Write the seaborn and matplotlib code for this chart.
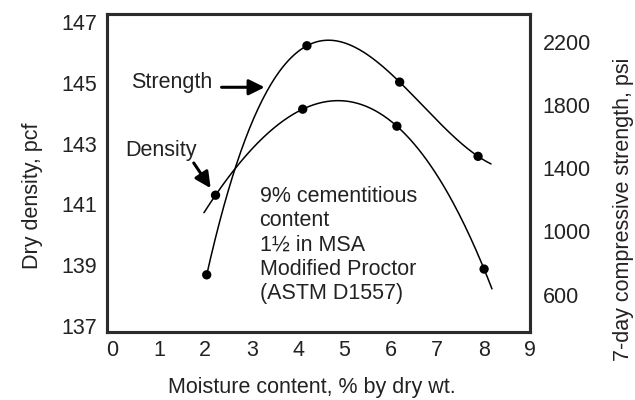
import numpy as np
import matplotlib
matplotlib.use('Agg')
import matplotlib.pyplot as plt
import seaborn as sns

# ---- data ----
density_moisture = [2.22, 4.10, 6.13, 8.01]
density_pcf = [141.30, 144.13, 143.57, 138.87]
strength_moisture = [2.03, 4.19, 6.19, 7.88]
strength_psi = [725, 2175, 1945, 1475]
x_ticks = [0, 1, 2, 3, 4, 5, 6, 7, 8, 9]
left_ticks = [137, 139, 141, 143, 145, 147]
right_ticks = [600, 1000, 1400, 1800, 2200]
note_lines = ["9% cementitious", "content", "1½ in MSA", "Modified Proctor", "(ASTM D1557)"]

sns.set_style('white')
plt.rcParams['font.family'] = ['Liberation Sans', 'DejaVu Sans']
FS = 15.5
TXT_C = '#222222'
SPINE_C = '#2b2b2b'

fig = plt.figure(figsize=(6.35, 4), dpi=100)
ax = fig.add_axes([107/635, 1-332/400, (530-107)/635, (332-14)/400])
ax2 = ax.twinx()

# fitted smooth curves through the points
dfit = np.polyfit(density_moisture, density_pcf, 3)
sfit = np.polyfit(strength_moisture, strength_psi, 3)
xd = np.linspace(1.97, 8.18, 200)
xs = np.linspace(strength_moisture[0], 8.16, 200)
sns.lineplot(x=xd, y=np.polyval(dfit, xd), ax=ax, color='black', lw=1.1)
sns.lineplot(x=xs, y=np.polyval(sfit, xs), ax=ax2, color='black', lw=1.1)
sns.scatterplot(x=density_moisture, y=density_pcf, ax=ax, color='black', s=45,
                edgecolor='none', zorder=5)
sns.scatterplot(x=strength_moisture, y=strength_psi, ax=ax2, color='black', s=45,
                edgecolor='none', zorder=5)

ax.set_xlim(-0.12, 9)
ax.set_ylim(136.80, 147.26)
ax2.set_ylim(363, 2376)
ax.set_xticks(x_ticks)
ax.set_yticks(left_ticks)
ax2.set_yticks(right_ticks)
ax.set_xticklabels([str(t) for t in x_ticks])
ax.set_yticklabels([str(t) for t in left_ticks])
ax2.set_yticklabels([str(t) for t in right_ticks])

ax.tick_params(axis='x', length=0, pad=6, labelsize=FS, colors=TXT_C)
ax.tick_params(axis='y', length=0, pad=7, labelsize=FS, colors=TXT_C)
ax2.tick_params(axis='y', length=0, pad=9, labelsize=FS, colors=TXT_C)

for a in (ax, ax2):
    for sp in a.spines.values():
        sp.set_linewidth(2.2)
        sp.set_color(SPINE_C)
    a.grid(False)

ax.set_xlabel("Moisture content, % by dry wt.", fontsize=FS, color=TXT_C)
ax.set_ylabel("Dry density, pcf", fontsize=FS, color=TXT_C)
ax2.set_ylabel("7-day compressive strength, psi", fontsize=FS, color=TXT_C)
ax.xaxis.set_label_coords(0.485, -0.174)
ax.yaxis.set_label_coords(-0.175, 0.428)
ax2.yaxis.set_label_coords(1.22, 0.387)
for lab in (ax.xaxis.label, ax.yaxis.label, ax2.yaxis.label):
    lab.set_va('center')
    lab.set_ha('center')

# annotations
ax.text(1.28, 145.02, "Strength", fontsize=FS, ha='center', va='center', color=TXT_C)
ax.annotate("", xy=(3.28, 144.85), xytext=(2.35, 144.85),
            arrowprops=dict(arrowstyle='-|>,head_length=0.95,head_width=0.47',
                            mutation_scale=10, lw=2.2, color='black',
                            shrinkA=0, shrinkB=0))
ax.text(1.04, 142.78, "Density", fontsize=FS, ha='center', va='center', color=TXT_C)
ax.annotate("", xy=(2.115, 141.53), xytext=(1.75, 142.36),
            arrowprops=dict(arrowstyle='-|>,head_length=0.95,head_width=0.47',
                            mutation_scale=10, lw=2.2, color='black',
                            shrinkA=0, shrinkB=0))
ax.text(3.17, 139.66, "\n".join(note_lines), fontsize=FS, ha='left', va='center',
        linespacing=1.2, color=TXT_C)

fig.savefig('out.png', dpi=100)
